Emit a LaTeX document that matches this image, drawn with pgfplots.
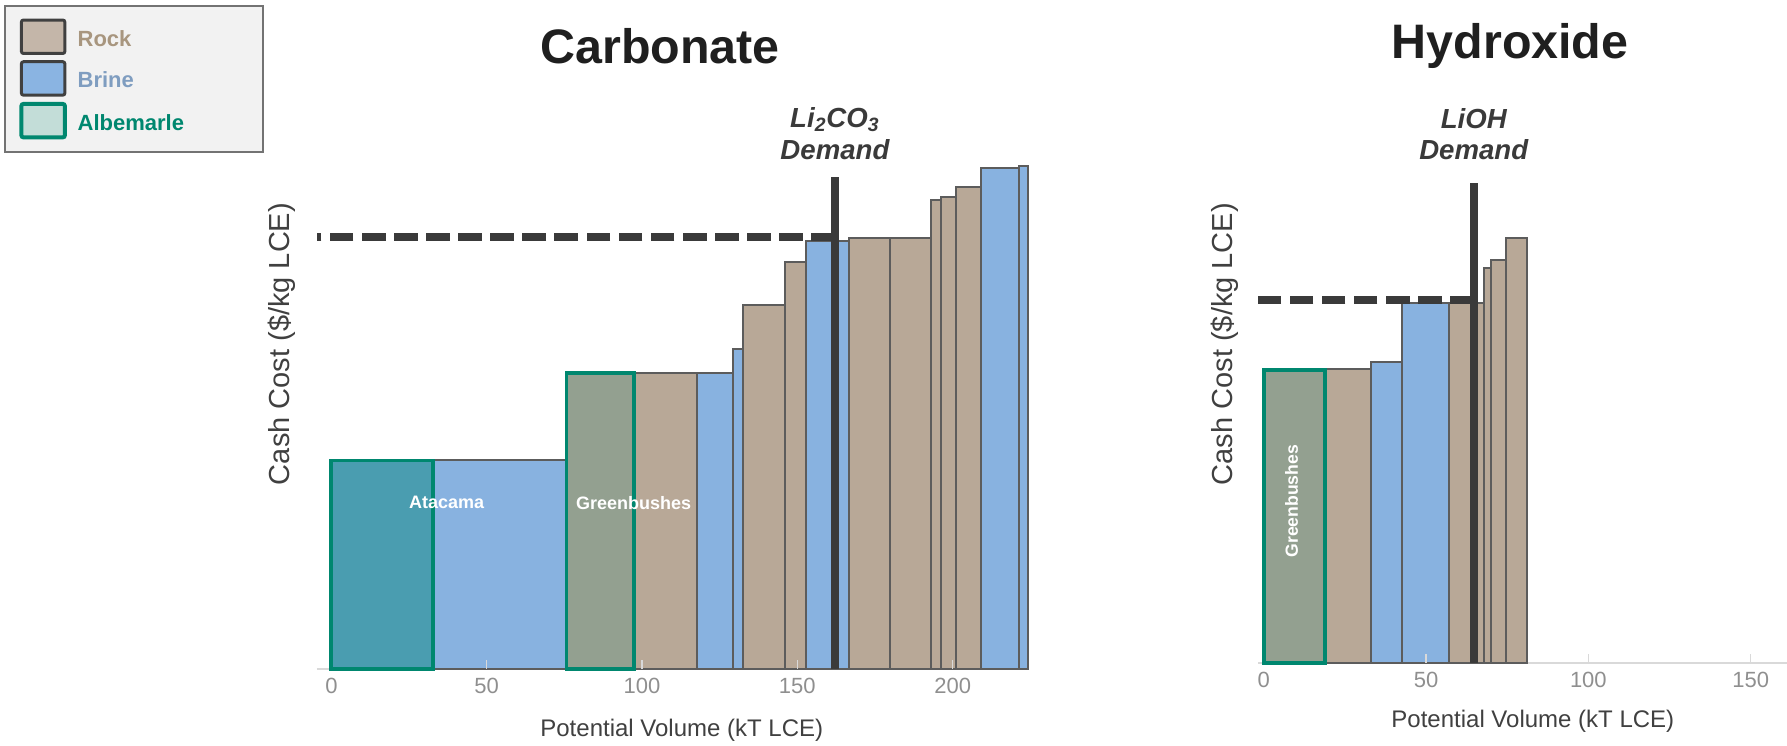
\documentclass[border=0pt]{standalone}
\usepackage{pgfplots}
\pgfplotsset{compat=1.18}
\usepackage{fontspec}
\setmainfont{Liberation Sans}
\definecolor{rockc}{HTML}{B8A897}
\definecolor{brinec}{HTML}{88B2E0}
\definecolor{edgec}{HTML}{5C5C5C}
\definecolor{albc}{HTML}{00876F}
\definecolor{atac}{HTML}{4A9DB0}
\definecolor{grbc}{HTML}{93A090}
\definecolor{dk}{HTML}{3A3A3A}
\definecolor{tickc}{HTML}{8F8F8F}
\definecolor{labc}{HTML}{404040}
\definecolor{rockt}{HTML}{A8967F}
\definecolor{brinet}{HTML}{7F9DC0}
\definecolor{legrock}{HTML}{C4B6A9}
\definecolor{legbrine}{HTML}{8AB4E2}
\definecolor{legalb}{HTML}{C3DDD8}
\pgfplotsset{
  rock/.style={fill=rockc, draw=edgec, line width=1pt},
  brine/.style={fill=brinec, draw=edgec, line width=1pt},
  albata/.style={fill=atac, draw=albc, line width=1.9pt},
  albgrb/.style={fill=grbc, draw=albc, line width=1.9pt},
  baseln/.style={draw=black!15, line width=0.8pt},
  cost axis/.style={
    anchor=south west, scale only axis,
    ymin=0, ymax=450,
    axis x line=bottom, axis y line=none,
    x axis line style={draw=none, -},
    ytick=\empty,
    tick style={draw=black!15, line width=0.75pt},
    major tick length=4.5pt, tick align=inside,
    xticklabel style={font=\fontsize{11}{12}\selectfont, text=tickc, yshift=-1pt},
    extra x ticks={0},
    extra x tick style={major tick length=0pt},
    /pgf/number format/assume math mode=true,
    axis on top, clip=false,
  },
}
\begin{document}
\begin{tikzpicture}[x=1pt,y=1pt]
\path[use as bounding box] (0,0) rectangle (893.5,372.5);
% ---------------- Carbonate ----------------
\begin{axis}[cost axis,
  at={(158.4pt,38pt)}, width=355.2pt, height=256.4pt,
  xmin=-4.7, xmax=224,
  xtick={50,100,150,200},
  legend style={at={(axis description cs:-0.4397,1.2946)}, anchor=north west,
    draw=black!55, fill=black!5, line width=1pt,
    font=\bfseries\fontsize{11}{13}\selectfont,
    inner xsep=7pt, inner ysep=6.2pt, row sep=2.65pt,
    /tikz/every odd column/.append style={column sep=3.4pt},
    cells={anchor=west}},
  legend cell align=left,
  legend image code/.code={\draw[#1, rounded corners=1pt] (0pt,-6.85pt) rectangle (21.7pt,9.85pt);},
]
\addlegendimage{fill=legrock, draw=black!75, line width=1.5pt}
\addlegendentry{\makebox[83.7pt][l]{\textcolor{rockt}{Rock}}}
\addlegendimage{fill=legbrine, draw=black!75, line width=1.5pt}
\addlegendentry{\makebox[83.7pt][l]{\textcolor{brinet}{Brine}}}
\addlegendimage{fill=legalb, draw=albc, line width=2pt}
\addlegendentry{\makebox[83.7pt][l]{\textcolor{albc}{Albemarle}}\rule[-6.2pt]{0pt}{6.2pt}}
\addplot[baseln] coordinates {(-4.7,0) (224,0)};
% bars: (x0,0) (x0,h) (x1,h) (x1,0)
\addplot[brine] coordinates {(32.8,0) (32.8,183) (75.7,183) (75.7,0)} -- cycle;
\addplot[rock]  coordinates {(97.5,0) (97.5,260) (117.6,260) (117.6,0)} -- cycle;
\addplot[brine] coordinates {(117.6,0) (117.6,260) (129.4,260) (129.4,0)} -- cycle;
\addplot[brine] coordinates {(129.4,0) (129.4,281) (132.6,281) (132.6,0)} -- cycle;
\addplot[rock]  coordinates {(132.6,0) (132.6,319) (146.0,319) (146.0,0)} -- cycle;
\addplot[rock]  coordinates {(146.0,0) (146.0,357.6) (152.8,357.6) (152.8,0)} -- cycle;
\addplot[brine] coordinates {(152.8,0) (152.8,376) (166.7,376) (166.7,0)} -- cycle;
\addplot[rock]  coordinates {(166.7,0) (166.7,378) (179.8,378) (179.8,0)} -- cycle;
\addplot[rock]  coordinates {(179.8,0) (179.8,378) (193.1,378) (193.1,0)} -- cycle;
\addplot[rock]  coordinates {(193.1,0) (193.1,411.4) (196.3,411.4) (196.3,0)} -- cycle;
\addplot[rock]  coordinates {(196.3,0) (196.3,414) (201.1,414) (201.1,0)} -- cycle;
\addplot[rock]  coordinates {(201.1,0) (201.1,422.6) (209.1,422.6) (209.1,0)} -- cycle;
\addplot[brine] coordinates {(209.1,0) (209.1,439.4) (221.4,439.4) (221.4,0)} -- cycle;
\addplot[brine] coordinates {(221.4,0) (221.4,441) (224.1,441) (224.1,0)} -- cycle;
\addplot[albata] coordinates {(0,0) (0,183) (32.8,183) (32.8,0)} -- cycle;
\addplot[albgrb] coordinates {(75.7,0) (75.7,260) (97.5,260) (97.5,0)} -- cycle;
% cost line and demand
\addplot[draw=dk, line width=4pt, dash pattern=on 11.85pt off 4.2pt] coordinates {(162.1,379.5) (-4.7,379.5)};
\addplot[draw=dk, line width=3.9pt] coordinates {(162.1,0) (162.1,431.6)};
\node[font=\bfseries\fontsize{9}{10}\selectfont, text=white] at (axis cs:37.1,146) {Atacama};
\node[font=\bfseries\fontsize{9}{10}\selectfont, text=white] at (axis cs:97.3,146) {Greenbushes};
\node[font=\bfseries\itshape\fontsize{13.8}{16}\selectfont, text=dk] at (axis cs:162.1,482) {Li\textsubscript{2}CO\textsubscript{3}};
\node[font=\bfseries\itshape\fontsize{13.8}{16}\selectfont, text=dk] at (axis cs:162.1,456) {Demand};
\node[font=\bfseries\fontsize{24.2}{28}\selectfont, text=black!88] at (axis cs:105.8,546.6) {Carbonate};
\node[font=\fontsize{12}{14}\selectfont, text=labc] at (axis cs:112.8,-54) {Potential Volume (kT LCE)};
\node[font=\fontsize{14.5}{16}\selectfont, text=labc, rotate=90] at (axis cs:-16.1,285.2) {Cash Cost (\$/kg LCE)};
\end{axis}
% ---------------- Hydroxide ----------------
\begin{axis}[cost axis,
  at={(629.1pt,41pt)}, width=264.4pt, height=256.4pt,
  xmin=-1.7, xmax=161.2,
  xtick={50,100,150},
]
\addplot[baseln] coordinates {(-1.7,0) (161.2,0)};
\addplot[rock]  coordinates {(18.8,0) (18.8,257.8) (33.0,257.8) (33.0,0)} -- cycle;
\addplot[brine] coordinates {(33.0,0) (33.0,263.8) (42.5,263.8) (42.5,0)} -- cycle;
\addplot[brine] coordinates {(42.5,0) (42.5,315.8) (57.1,315.8) (57.1,0)} -- cycle;
\addplot[rock]  coordinates {(57.1,0) (57.1,315.8) (67.7,315.8) (67.7,0)} -- cycle;
\addplot[rock]  coordinates {(67.7,0) (67.7,346.8) (69.9,346.8) (69.9,0)} -- cycle;
\addplot[rock]  coordinates {(69.9,0) (69.9,353.8) (74.7,353.8) (74.7,0)} -- cycle;
\addplot[rock]  coordinates {(74.7,0) (74.7,373.3) (81.2,373.3) (81.2,0)} -- cycle;
\addplot[albgrb] coordinates {(0,0) (0,256.8) (18.8,256.8) (18.8,0)} -- cycle;
\addplot[draw=dk, line width=4pt, dash pattern=on 11.85pt off 4.2pt] coordinates {(64.7,318.8) (-1.7,318.8)};
\addplot[draw=dk, line width=3.9pt] coordinates {(64.7,0) (64.7,421.2)};
\node[font=\bfseries\fontsize{8.8}{10}\selectfont, text=white, rotate=90] at (axis cs:8.6,142) {Greenbushes};
\node[font=\bfseries\itshape\fontsize{13.8}{16}\selectfont, text=dk] at (axis cs:64.7,477.8) {LiOH};
\node[font=\bfseries\itshape\fontsize{13.8}{16}\selectfont, text=dk] at (axis cs:64.7,450.8) {Demand};
\node[font=\bfseries\fontsize{24.2}{28}\selectfont, text=black!88] at (axis cs:75.9,541.4) {Hydroxide};
\node[font=\fontsize{12}{14}\selectfont, text=labc] at (axis cs:82.9,-51) {Potential Volume (kT LCE)};
\node[font=\fontsize{14.5}{16}\selectfont, text=labc, rotate=90] at (axis cs:-11.9,279.8) {Cash Cost (\$/kg LCE)};
\end{axis}
\end{tikzpicture}
\end{document}
